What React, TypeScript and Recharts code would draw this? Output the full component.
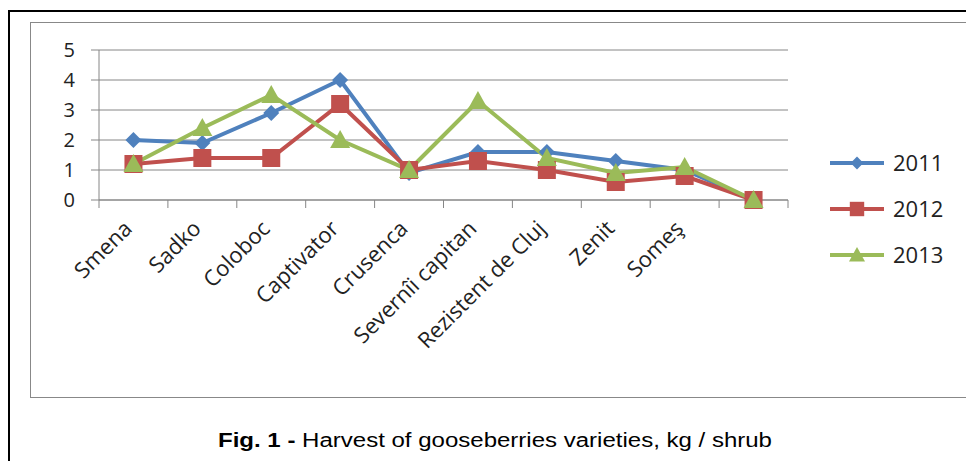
import React from 'react';
import { LineChart, Line, XAxis, YAxis, CartesianGrid } from 'recharts';

const varieties = ['Smena', 'Sadko', 'Coloboc', 'Captivator', 'Crusenca', 'Severnîi capitan', 'Rezistent de Cluj', 'Zenit', 'Someş', ''];
const y2011 = [2.0, 1.9, 2.9, 4.0, 0.9, 1.6, 1.6, 1.3, 1.0, 0];
const y2012 = [1.2, 1.4, 1.4, 3.2, 1.0, 1.3, 1.0, 0.6, 0.8, 0];
const y2013 = [1.2, 2.4, 3.5, 2.0, 1.0, 3.3, 1.4, 0.9, 1.1, 0];
const yTicks = [0, 1, 2, 3, 4, 5];

const series = [
  { key: 'y2011', name: '2011', color: '#4F81BD', shape: 'diamond' },
  { key: 'y2012', name: '2012', color: '#C0504D', shape: 'square' },
  { key: 'y2013', name: '2013', color: '#9BBB59', shape: 'triangle' },
];

const data = varieties.map((v, i) => ({ name: v, y2011: y2011[i], y2012: y2012[i], y2013: y2013[i] }));

const FONT = '"Open Sans", sans-serif';
const PLOT_W = 689;
const HALF_STEP = PLOT_W / varieties.length / 2;

// marker drawing shared by the lines and the legend; k scales it down for the legend
const Marker = ({ cx, cy, shape, color, k = 1 }: any) => {
  if (cx == null || cy == null) return null;
  if (shape === 'diamond') {
    const r = 8 * k;
    return <polygon points={`${cx},${cy - r} ${cx + r},${cy} ${cx},${cy + r} ${cx - r},${cy}`} fill={color} />;
  }
  if (shape === 'square') {
    const r = 9 * k;
    return <rect x={cx - r} y={cy - r} width={r * 2} height={r * 2} fill={color} />;
  }
  const r = 10 * k;
  return <polygon points={`${cx},${cy - r} ${cx + r},${cy + r * 0.8} ${cx - r},${cy + r * 0.8}`} fill={color} />;
};

const XTick = (props: any) => {
  const { x, y, payload, index, visibleTicksCount } = props;
  const left = x - HALF_STEP;
  const tx = x;
  const ty = y + 22;
  return (
    <g>
      <line x1={left} y1={y - 8} x2={left} y2={y} stroke="#868686" />
      {index === visibleTicksCount - 1 && (
        <line x1={x + HALF_STEP} y1={y - 8} x2={x + HALF_STEP} y2={y} stroke="#868686" />
      )}
      <text
        x={tx}
        y={ty}
        transform={`rotate(-45, ${tx}, ${ty})`}
        textAnchor="end"
        fontSize={22}
        fontFamily={FONT}
        fill="#222"
      >
        {payload.value}
      </text>
    </g>
  );
};

export default function App() {
  return (
    <div style={{ position: 'absolute', left: 0, top: 0, width: 966, height: 461, background: '#fff', overflow: 'hidden' }}>
      <div style={{ position: 'absolute', left: 8, top: 10, width: 1000, height: 500, border: '2px solid #000' }} />
      <div style={{ position: 'absolute', left: 30, top: 22, width: 1000, height: 374, border: '1px solid #888' }} />
      <div style={{ position: 'absolute', left: 0, top: 0 }}>
        <LineChart width={966} height={461} data={data} margin={{ top: 50, right: 178, bottom: 0, left: 0 }}>
          <CartesianGrid vertical={false} stroke="#868686" />
          <XAxis
            dataKey="name"
            height={261}
            interval={0}
            padding={{ left: HALF_STEP, right: HALF_STEP }}
            stroke="#868686"
            tickLine={false}
            tick={<XTick />}
          />
          <YAxis
            width={99}
            domain={[0, 5]}
            ticks={yTicks}
            interval={0}
            stroke="#868686"
            tickSize={8}
            tickMargin={16}
            tick={{ fontSize: 20, fontFamily: FONT, fill: '#222' }}
          />
          {series.map((s) => (
            <Line
              key={s.key}
              dataKey={s.key}
              name={s.name}
              stroke={s.color}
              strokeWidth={4}
              isAnimationActive={false}
              dot={(p: any) => <Marker key={`${s.key}-${p.index}`} cx={p.cx} cy={p.cy} shape={s.shape} color={s.color} />}
              activeDot={false}
            />
          ))}
        </LineChart>
      </div>
      <svg style={{ position: 'absolute', left: 820, top: 140 }} width={146} height={140}>
        {series.map((s, i) => {
          const cy = 23 + i * 46;
          return (
            <g key={s.key}>
              <line x1={10} y1={cy} x2={64} y2={cy} stroke={s.color} strokeWidth={4} />
              <Marker cx={37} cy={cy} shape={s.shape} color={s.color} k={0.8} />
              <text x={73} y={cy + 8} fontSize={22} fontFamily={FONT} fill="#222">
                {s.name}
              </text>
            </g>
          );
        })}
      </svg>
      <svg style={{ position: 'absolute', left: 0, top: 420 }} width={966} height={41}>
        <text
          x={218}
          y={27}
          textLength={554}
          lengthAdjust="spacingAndGlyphs"
          fontSize={20}
          fontFamily='"Liberation Sans", Arial, sans-serif'
          fill="#000"
        >
          <tspan fontWeight="bold">Fig. 1 -</tspan> Harvest of gooseberries varieties, kg / shrub
        </text>
      </svg>
    </div>
  );
}
